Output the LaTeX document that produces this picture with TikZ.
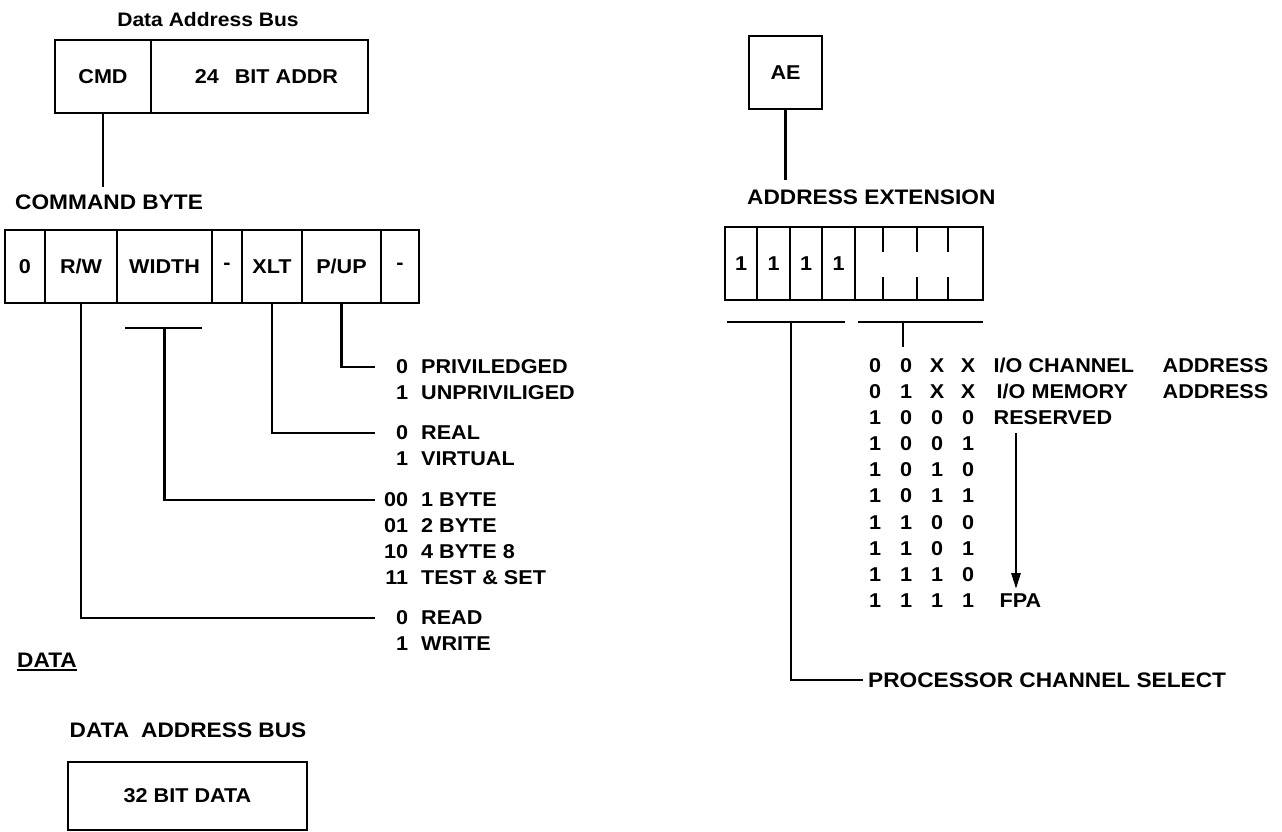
\documentclass[tikz,border=0pt]{standalone}
\usepackage{fontspec}
\setmainfont{Liberation Sans}[FakeStretch=1.08]
\usetikzlibrary{arrows.meta}
\newcommand\lblfont{\bfseries\fontsize{20}{22}\selectfont}
\newcommand\hdfont{\bfseries\fontsize{21}{23}\selectfont}
\newcommand\smlfont{\bfseries\fontsize{19.5}{21}\selectfont}
\newcommand\codeline[2]{\makebox[33pt][r]{#1}\hspace{13pt}#2}
\newcommand\tabrow[5]{\makebox[31pt]{#1}\makebox[31pt]{#2}\makebox[31pt]{#3}\makebox[31pt]{#4}\hspace{10pt}#5}
\begin{document}
\begin{tikzpicture}[x=1pt,y=-1pt,
  ln/.style={line width=2.8pt},
  cell/.style={draw,line width=2.8pt,inner sep=0pt,font=\lblfont,minimum height=73pt},
  lbl/.style={inner sep=0pt,anchor=west,font=\lblfont},
  hd/.style={inner sep=0pt,anchor=west,font=\hdfont},
  ctr/.style={inner sep=0pt,font=\lblfont}]
\useasboundingbox[fill=white] (0,0) rectangle (1282,832);

% ---------- top-left: data address bus ----------
\node[ctr,font=\smlfont] (dab) at (208,20) {Data Address Bus};
\node[cell,minimum width=96pt] (cmd) at (103,76.5) {CMD};
\node[cell,minimum width=217pt] (addr) at (259.5,76.5) {\hspace{14pt}24\hspace{16pt}BIT ADDR};
\node[hd] (cmdbyte) at (15,202) {COMMAND BYTE};
\draw[ln] (cmd.south) -- ([yshift=7pt]cmdbyte.north -| cmd.south);

% ---------- command byte ----------
\node[cell,minimum width=40pt] (c0) at (25,266.5) {0};
\node[cell,minimum width=72pt] (crw) at (81,266.5) {R/W};
\node[cell,minimum width=95pt] (cwidth) at (164.5,266.5) {WIDTH};
\node[cell,minimum width=30pt] (cd1) at (227,266.5) {-};
\node[cell,minimum width=60pt] (cxlt) at (272,266.5) {XLT};
\node[cell,minimum width=79pt] (cpup) at (341.5,266.5) {P/UP};
\node[cell,minimum width=38pt] (cd2) at (400,266.5) {-};

\node[lbl] (priv) at (375,367) {\codeline{0}{PRIVILEDGED}};
\node[lbl] (unpriv) at (375,393) {\codeline{1}{UNPRIVILIGED}};
\node[lbl] (real) at (375,433) {\codeline{0}{REAL}};
\node[lbl] (virt) at (375,459) {\codeline{1}{VIRTUAL}};
\node[lbl] (byte1) at (375,500) {\codeline{00}{1 BYTE}};
\node[lbl] (byte2) at (375,526) {\codeline{01}{2 BYTE}};
\node[lbl] (byte4) at (375,552) {\codeline{10}{4 BYTE 8}};
\node[lbl] (tas) at (375,578) {\codeline{11}{TEST \& SET}};
\node[lbl] (read) at (375,618) {\codeline{0}{READ}};
\node[lbl] (write) at (375,644) {\codeline{1}{WRITE}};

\draw[ln] (cpup.south) |- (priv.west);
\draw[ln] (cxlt.south) |- (real.west);
\coordinate (wbl) at (125,328);
\coordinate (wbr) at (202,328);
\coordinate (wbm) at (164.5,328);
\draw[ln] (wbl) -- (wbr);
\draw[ln] (wbm) |- (byte1.west);
\draw[ln] (crw.south) |- (read.west);

% ---------- data ----------
\node[hd] (data) at (17,660) {DATA};
\draw[line width=2pt] ([yshift=-3pt]data.south west) -- ([yshift=-3pt]data.south east);
\node[ctr,font=\hdfont] (dab2) at (188,730) {DATA\hspace{12pt}ADDRESS BUS};
\node[cell,minimum width=239pt,minimum height=68pt] (bitdata) at (187.5,796) {32 BIT DATA};

% ---------- right: address extension ----------
\node[cell,minimum width=73pt] (ae) at (785.5,72.5) {AE};
\node[hd] (addrext) at (747,197) {ADDRESS EXTENSION};
\draw[ln] (ae.south) -- ([yshift=9pt]addrext.north -| ae.south);

\node[cell,minimum width=32pt] (e1) at (741,263.5) {1};
\node[cell,minimum width=33pt] (e2) at (773.5,263.5) {1};
\node[cell,minimum width=32pt] (e3) at (806,263.5) {1};
\node[cell,minimum width=33pt] (e4) at (838.5,263.5) {1};
\node[cell,minimum width=128pt] (erest) at (919,263.5) {};
\foreach \xx in {883,917,948}{
  \draw[ln] (\xx,227) -- (\xx,252);
  \draw[ln] (\xx,277) -- (\xx,300);
}

\coordinate (lbl1) at (727,322);
\coordinate (lbr1) at (845,322);
\coordinate (lbm) at (791,322);
\coordinate (rbl) at (858,322);
\coordinate (rbr) at (983,322);
\coordinate (rbm) at (903,322);
\coordinate (tick) at (903,347);
\draw[ln] (lbl1) -- (lbr1);
\draw[ln] (rbl) -- (rbr);
\draw[ln] (rbm) -- (tick);

\node[lbl] (r1) at (859.5,365) {\tabrow{0}{0}{X}{X}{\makebox[169pt][l]{I/O CHANNEL}ADDRESS}};
\node[lbl] (r2) at (859.5,391.2) {\tabrow{0}{1}{X}{X}{\hspace{3pt}\makebox[166pt][l]{I/O MEMORY}ADDRESS}};
\node[lbl] (r3) at (859.5,417.4) {\tabrow{1}{0}{0}{0}{RESERVED}};
\node[lbl] (r4) at (859.5,443.6) {\tabrow{1}{0}{0}{1}{}};
\node[lbl] (r5) at (859.5,469.8) {\tabrow{1}{0}{1}{0}{}};
\node[lbl] (r6) at (859.5,496) {\tabrow{1}{0}{1}{1}{}};
\node[lbl] (r7) at (859.5,522.2) {\tabrow{1}{1}{0}{0}{}};
\node[lbl] (r8) at (859.5,548.4) {\tabrow{1}{1}{0}{1}{}};
\node[lbl] (r9) at (859.5,574.6) {\tabrow{1}{1}{1}{0}{}};
\node[lbl] (r10) at (859.5,600.8) {\tabrow{1}{1}{1}{1}{\hspace{6pt}FPA}};

\coordinate (arrtop) at (1016,433);
\coordinate (arrbot) at (1016,589);
\draw[ln,-{Triangle[length=16pt,width=9pt]}] (arrtop) -- (arrbot);

\node[hd,inner xsep=5pt] (pcs) at (863,680) {PROCESSOR CHANNEL SELECT};
\draw[ln] (lbm) |- (pcs.west);
\end{tikzpicture}
\end{document}
